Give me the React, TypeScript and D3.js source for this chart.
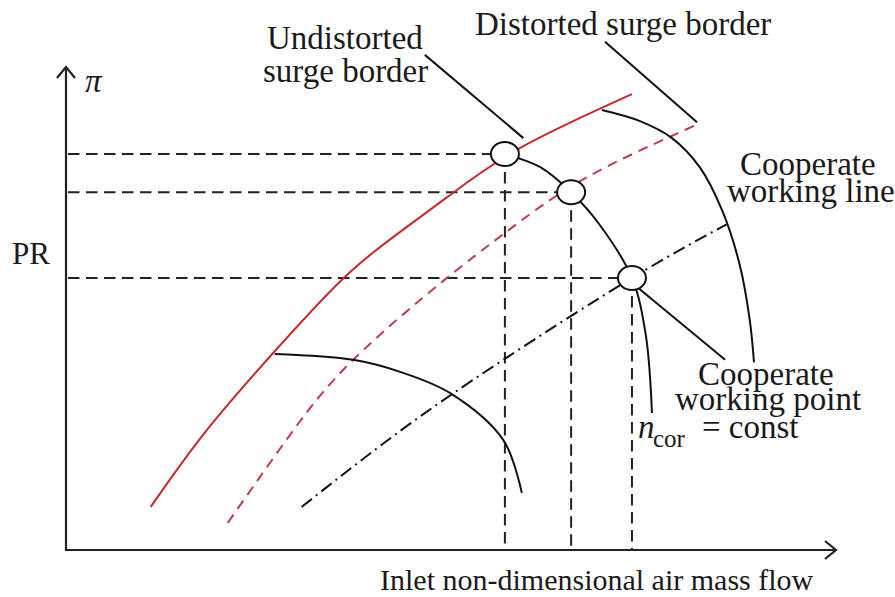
import React from "react";
import * as d3 from "d3";

// Compressor map schematic: pressure ratio vs. inlet non-dimensional air mass flow.
// Curve points are in relative units (0–100 on both axes).
type Pt = [number, number];

const undistortedSurge: Pt[] = [
  [11.0, 8.9], [18.1, 24.4], [26.9, 40.7], [35.8, 55.8], [42.7, 64.9], [49.5, 72.9], [59.0, 83.1], [73.5, 94.2],
];
const distortedSurge: Pt[] = [
  [21.0, 5.6], [29.1, 23.8], [37.3, 39.3], [49.0, 55.6], [57.0, 65.5], [67.1, 76.5], [82.1, 88.0],
];
const workingLine: Pt[] = [
  [30.6, 8.9], [43.4, 24.6], [56.8, 39.3], [73.5, 56.2], [85.8, 67.3],
];
const speedLineHigh: Pt[] = [
  [69.6, 90.9], [74.55, 88.6], [78.7, 85.1], [82.3, 79.1], [85.2, 70.2], [87.5, 58.9], [88.8, 47.5], [89.35, 38.8],
];
const speedLineDesign: Pt[] = [
  [57.0, 81.8], [61.6, 79.1], [65.6, 73.9], [69.35, 67.1], [73.5, 56.2], [75.3, 44.4], [76.1, 28.3],
];
const speedLineLow: Pt[] = [
  [27.1, 40.5], [37.3, 39.3], [43.4, 36.8], [49.9, 32.4], [56.8, 22.7], [59.2, 11.8],
];
const operatingPoints: Pt[] = [
  [57.0, 81.8], [65.6, 73.9], [73.5, 56.2],
];
// Leader lines from the labels to the features they name
const leaderUndistorted: Pt[] = [[46.6, 102.3], [59.4, 85.1]];
const leaderDistorted: Pt[] = [[70.0, 105.0], [81.95, 88.4]];
const leaderPoint: Pt[] = [[74.2, 54.3], [85.6, 39.3]];

const W = 895;
const H = 597;
const X0 = 66;
const X1 = 836;
const Y0 = 550;
const Y1 = 66;

const FONT = "'Liberation Serif', 'Times New Roman', serif";
const RED = "#c42a2c";
const RED_DASH = "#c03c4a";

export default function App() {
  const x = d3.scaleLinear().domain([0, 100]).range([X0, X1]);
  const y = d3.scaleLinear().domain([0, 100]).range([Y0, Y1]);
  const curve = d3
    .line<Pt>()
    .x((d) => x(d[0]))
    .y((d) => y(d[1]))
    .curve(d3.curveCatmullRom.alpha(0.5));
  const smooth = d3
    .line<Pt>()
    .x((d) => x(d[0]))
    .y((d) => y(d[1]))
    .curve(d3.curveNatural);
  const straight = d3
    .line<Pt>()
    .x((d) => x(d[0]))
    .y((d) => y(d[1]));

  const textStyle = { fontFamily: FONT, fontSize: 33, fill: "#1a1a1a" } as const;

  return (
    <svg
      width={W}
      height={H}
      viewBox={`0 0 ${W} ${H}`}
      style={{ position: "absolute", left: 0, top: 0, background: "#fff" }}
    >
      <rect width={W} height={H} fill="#fff" />

      {/* guide lines from each operating point to the axes */}
      <g stroke="#222" strokeWidth={2} strokeDasharray="11.5,6.5" fill="none">
        {operatingPoints.map((p, i) => (
          <g key={i}>
            <line x1={X0 + 2} x2={x(p[0])} y1={y(p[1])} y2={y(p[1])} />
            <line x1={x(p[0])} x2={x(p[0])} y1={y(p[1])} y2={Y0} />
          </g>
        ))}
      </g>

      {/* surge borders */}
      <path d={smooth(undistortedSurge) ?? ""} fill="none" stroke={RED} strokeWidth={2} />
      <path
        d={smooth(distortedSurge) ?? ""}
        fill="none"
        stroke={RED_DASH}
        strokeWidth={2}
        strokeDasharray="10,7"
      />

      {/* cooperate working line */}
      <path
        d={smooth(workingLine) ?? ""}
        fill="none"
        stroke="#111"
        strokeWidth={2}
        strokeDasharray="13,5,2,5"
      />

      {/* constant corrected speed lines */}
      {[speedLineHigh, speedLineDesign, speedLineLow].map((s, i) => (
        <path key={i} d={curve(s) ?? ""} fill="none" stroke="#111" strokeWidth={2} />
      ))}

      {/* leaders */}
      {[leaderUndistorted, leaderDistorted, leaderPoint].map((l, i) => (
        <path key={i} d={straight(l) ?? ""} fill="none" stroke="#111" strokeWidth={2} />
      ))}

      {/* operating points */}
      {operatingPoints.map((p, i) => (
        <ellipse
          key={i}
          cx={x(p[0])}
          cy={y(p[1])}
          rx={14}
          ry={12}
          fill="#fff"
          stroke="#111"
          strokeWidth={2}
        />
      ))}

      {/* axes */}
      <g stroke="#222" strokeWidth={2.2} fill="none">
        <line x1={X0} y1={Y0 + 1} x2={X0} y2={Y1 + 1} />
        <line x1={X0 - 1} y1={Y0} x2={X1} y2={Y0} />
        <polyline points={`${X0 - 9},${Y1 + 12} ${X0},${Y1 + 1} ${X0 + 9},${Y1 + 12}`} />
        <polyline points={`${X1 - 11},${Y0 - 9} ${X1},${Y0} ${X1 - 11},${Y0 + 9}`} />
      </g>

      {/* labels */}
      <text x={85} y={92} style={{ ...textStyle, fontStyle: "italic" }}>π</text>
      <text x={12} y={264} style={{ ...textStyle, fontSize: 31 }}>PR</text>
      <text x={380} y={590} style={{ ...textStyle, fontSize: 30 }}>
        Inlet non-dimensional air mass flow
      </text>

      <text x={267} y={49} style={textStyle}>Undistorted</text>
      <text x={263} y={82} style={textStyle}>surge border</text>
      <text x={475} y={35} style={textStyle}>Distorted surge border</text>

      <text x={740} y={175} style={textStyle}>Cooperate</text>
      <text x={727} y={202} style={textStyle}>working line</text>

      <text x={698} y={385} style={textStyle}>Cooperate</text>
      <text x={675} y={410} style={textStyle}>working point</text>

      <text x={638} y={438} style={{ ...textStyle, fontStyle: "italic" }}>n</text>
      <text x={653} y={447} style={{ ...textStyle, fontSize: 25 }}>cor</text>
      <text x={702} y={438} style={textStyle}>= const</text>
    </svg>
  );
}
